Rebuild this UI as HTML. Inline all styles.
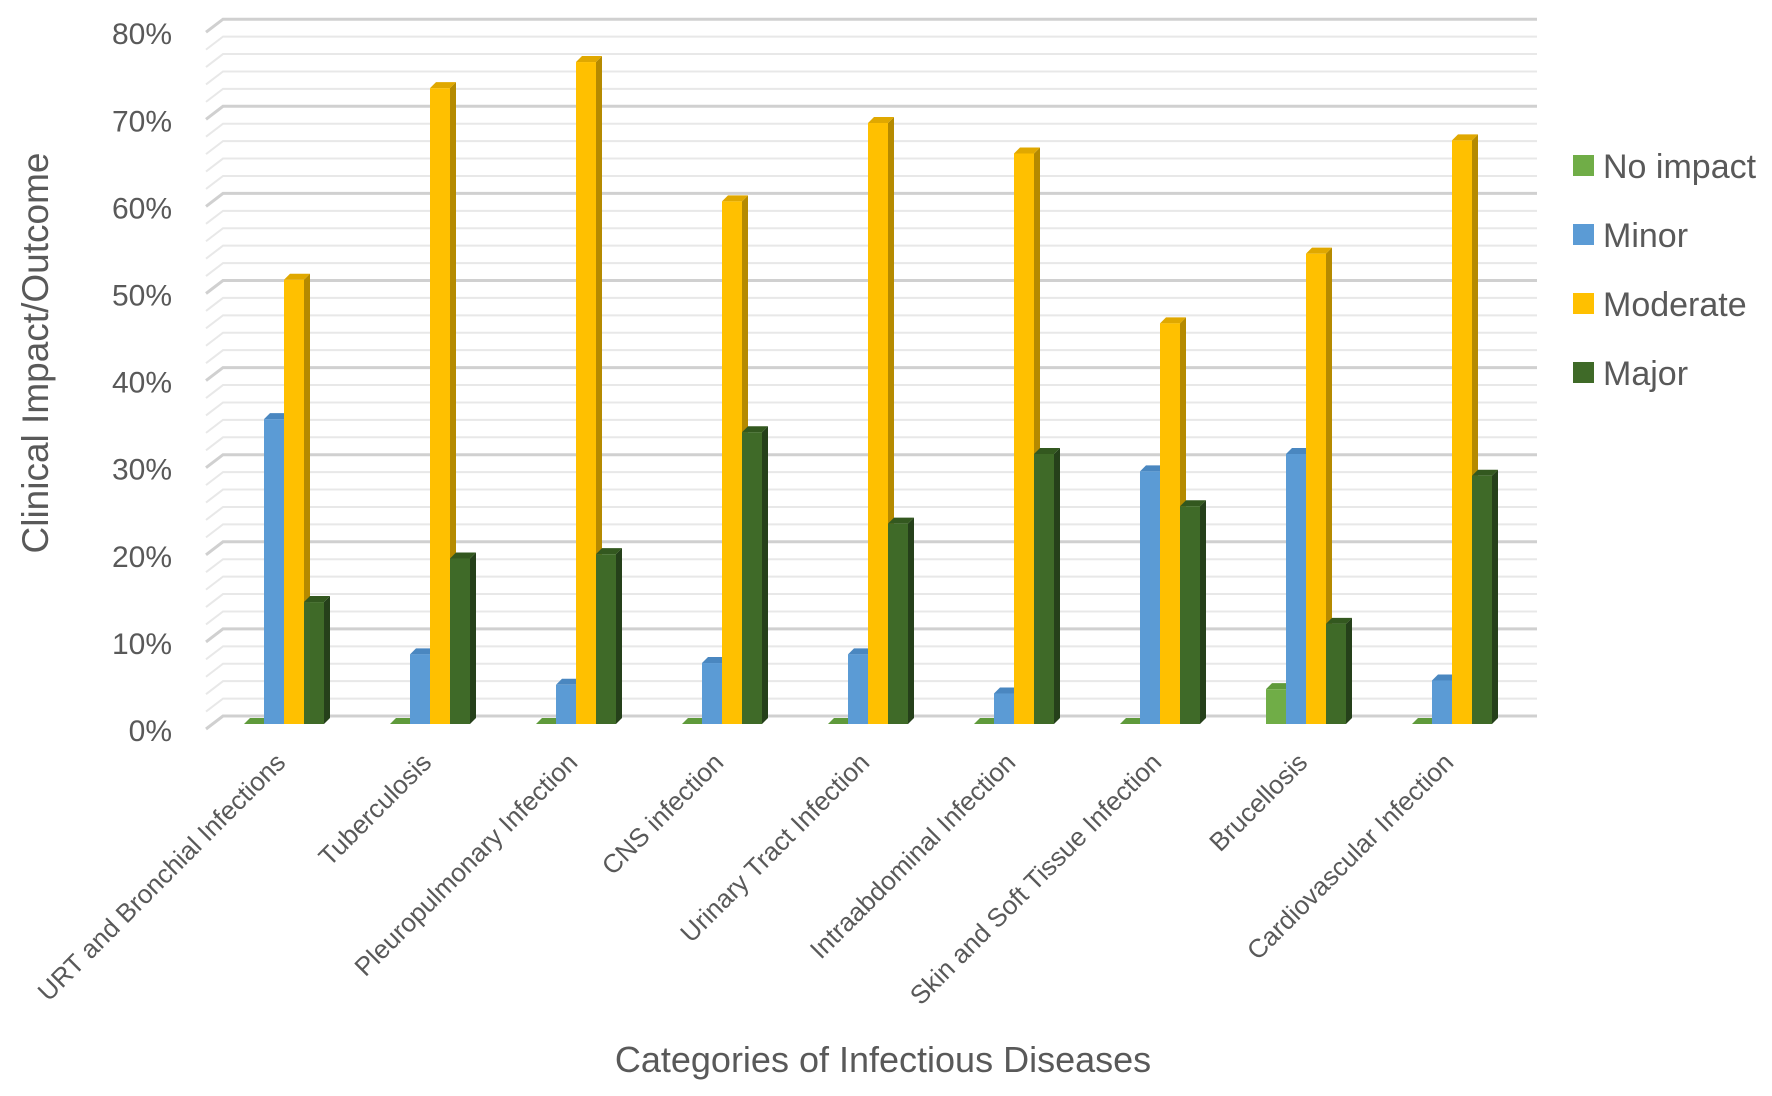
<!DOCTYPE html>
<html><head><meta charset="utf-8"><style>
html,body{margin:0;padding:0;background:#fff;}
svg{display:block;font-family:"Liberation Sans",sans-serif;}
</style></head><body>
<svg id="chart" width="1772" height="1096" viewBox="0 0 1772 1096" xmlns="http://www.w3.org/2000/svg">
<g id="grid"></g>
<g id="yticks"></g>
<g id="bars"></g>
<g id="xlabels"></g>
<text x="0" y="0" transform="translate(48,353) rotate(-90)" text-anchor="middle" font-size="37" fill="#595959">Clinical Impact/Outcome</text>
<text x="883" y="1072" text-anchor="middle" font-size="36" fill="#595959">Categories of Infectious Diseases</text>
<g id="legend"></g>
</svg>
<script>
const categories = ["URT and Bronchial Infections","Tuberculosis","Pleuropulmonary Infection","CNS infection","Urinary Tract Infection","Intraabdominal Infection","Skin and Soft Tissue Infection","Brucellosis","Cardiovascular Infection"];
const seriesNames = ["No impact","Minor","Moderate","Major"];
const noImpact = [0,0,0,0,0,0,0,4,0];
const minor = [35,8,4.5,7,8,3.5,29,31,5];
const moderate = [51,73,76,60,69,65.5,46,54,67];
const major = [14,19,19.5,33.5,23,31,25,11.5,28.5];
const yTicks = [0,10,20,30,40,50,60,70,80];
const yTickLabels = ["0%","10%","20%","30%","40%","50%","60%","70%","80%"];

const NS="http://www.w3.org/2000/svg";
const colors=[["#70ad47","#4e7a31","#5f9a3b"],["#5b9bd5","#3d6f9e","#4a87c0"],["#ffc000","#b58a00","#e0a800"],["#3f6a28","#25401a","#33581f"]];
const series=[noImpact,minor,moderate,major];
const backLeft=223, backRight=1537, back0=716, perPct=8.71, dxF=-17, dyF=13;
const front0=724;
function yBack(v){return back0-v*perPct;}
function yFront(v){return front0-v*perPct;}
function groupX(i){return 244+i*146;}
function mk(tag,attrs,parent){const e=document.createElementNS(NS,tag);for(const k in attrs)e.setAttribute(k,attrs[k]);parent.appendChild(e);return e;}

const grid=document.getElementById('grid');
for(let v=0;v<=80;v+=2){
  const y=yBack(v);const majorLine=(v%10===0);
  const p=mk('polyline',{points:`${backLeft+dxF},${y+dyF} ${backLeft},${y} ${backRight},${y}`,fill:'none',stroke:majorLine?'#d0d0d0':'#e8e8e8','stroke-width':majorLine?3:2},grid);
  
  
}
const yt=document.getElementById('yticks');
yTicks.forEach((v,i)=>{
  const t=mk('text',{x:172,y:yFront(v)+17,'text-anchor':'end','font-size':30,fill:'#595959'},yt);
  t.textContent=yTickLabels[i];
  
  
});
const bars=document.getElementById('bars');
const bw=20, d=6;
categories.forEach((c,i)=>{
  series.forEach((s,j)=>{
    const x=groupX(i)+j*bw; const v=s[i]; const yt2=yFront(v); const yb=front0;
    const g=mk('g',{},bars);
    
    
    mk('polygon',{points:`${x+bw},${yt2} ${x+bw+d},${yt2-d} ${x+bw+d},${yb-d} ${x+bw},${yb}`,fill:colors[j][1]},g);
    mk('polygon',{points:`${x},${yt2} ${x+d},${yt2-d} ${x+bw+d},${yt2-d} ${x+bw},${yt2}`,fill:colors[j][2]},g);
    mk('rect',{x:x,y:yt2,width:bw,height:Math.max(0,yb-yt2),fill:colors[j][0]},g);
  });
});
const xl=document.getElementById('xlabels');
categories.forEach((c,i)=>{
  const x=groupX(i)+43, y=764;
  const t=mk('text',{x:0,y:0,transform:`translate(${x},${y}) rotate(-45)`,'text-anchor':'end','font-size':26,fill:'#595959'},xl);
  t.textContent=c;
  
  
});
const lg=document.getElementById('legend');
const ly=[166,235,304,373];
seriesNames.forEach((n,j)=>{
  const g=mk('g',{},lg);
  
  
  mk('rect',{x:1573,y:ly[j]-11,width:21,height:21,fill:colors[j][0]},g);
  const t=mk('text',{x:1603,y:ly[j]+12,'font-size':34,fill:'#595959'},g);
  t.textContent=n;
});
</script>
</body></html>
